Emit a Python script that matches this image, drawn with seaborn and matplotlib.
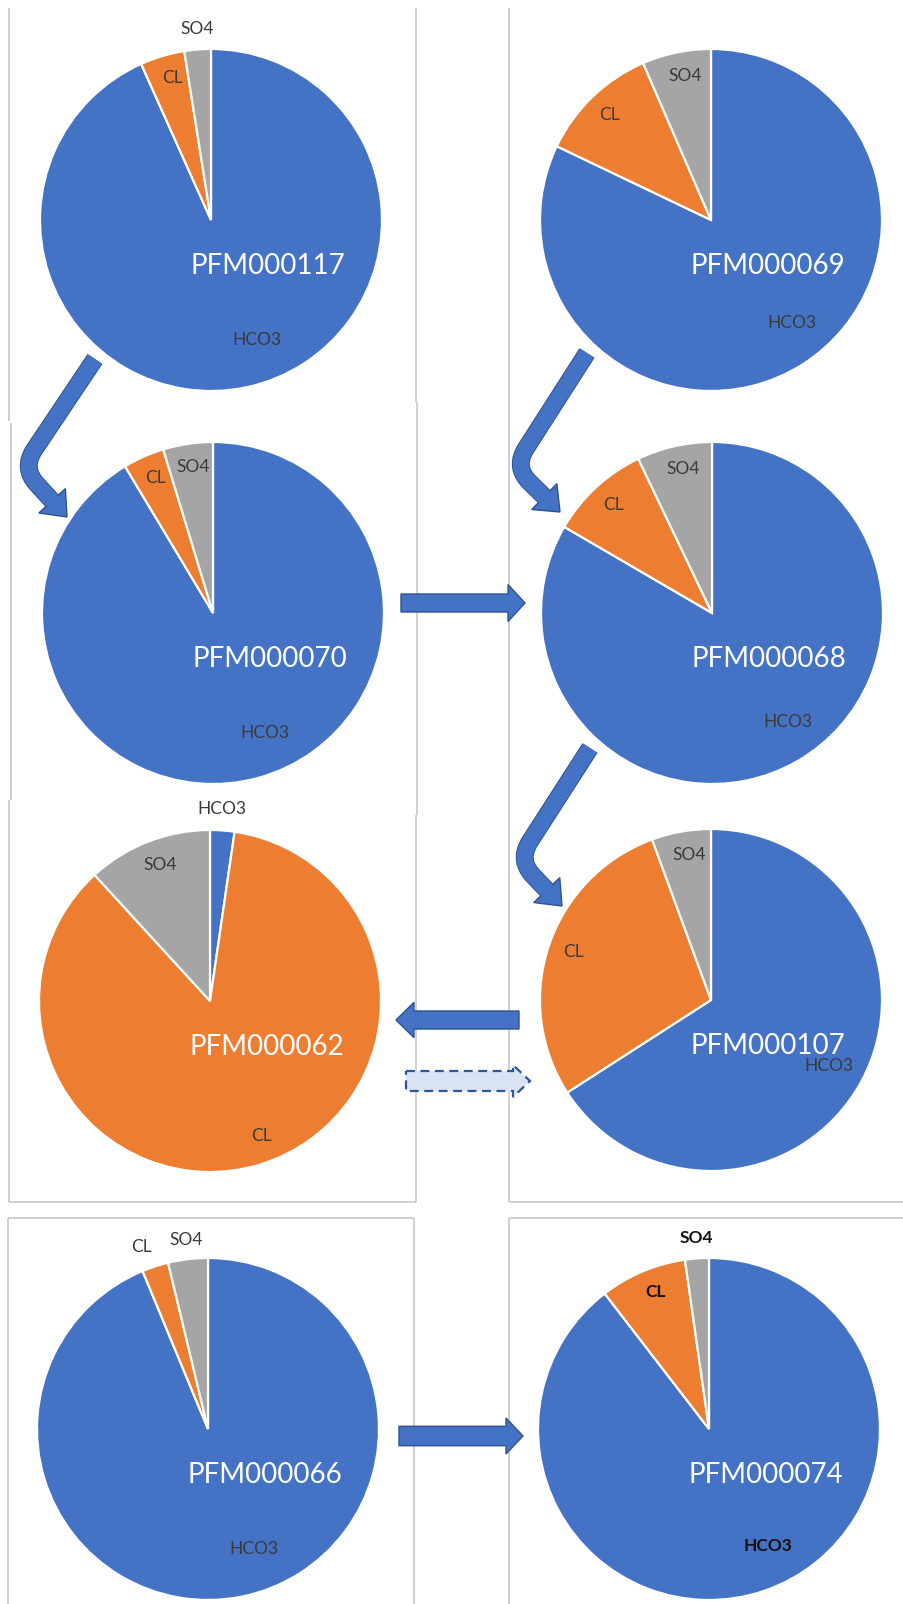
import numpy as np
import pandas as pd
import matplotlib
matplotlib.use("Agg")
import matplotlib.pyplot as plt
import matplotlib.patheffects as pe
from matplotlib.patches import Polygon, PathPatch
from matplotlib.path import Path
import seaborn as sns

# ---- ion composition per sample (percent of total) ----
samples = ["PFM000117", "PFM000069", "PFM000070", "PFM000068",
           "PFM000062", "PFM000107", "PFM000066", "PFM000074"]
ions = ["HCO3", "CL", "SO4"]
hco3 = [93.3, 82.1, 91.4, 83.4, 2.3, 65.9, 93.75, 89.6]
cl = [4.2, 11.4, 3.9, 9.5, 85.9, 28.5, 2.5, 8.2]
so4 = [2.5, 6.5, 4.7, 7.1, 11.8, 5.6, 3.75, 2.25]

df = pd.DataFrame({"sample": samples, "HCO3": hco3, "CL": cl, "SO4": so4}).set_index("sample")

sns.set_theme(style="white")
plt.rcParams["font.family"] = ["Lato", "DejaVu Sans"]
ion_colors = dict(zip(ions, sns.color_palette(["#4472C4", "#ED7D31", "#A5A5A5"])))

W, H = 904, 1604
fig = plt.figure(figsize=(W / 100, H / 100), dpi=100)
fig.patch.set_facecolor("white")


def pixel_axes(zorder):
    ax = fig.add_axes([0, 0, 1, 1], zorder=zorder)
    ax.set_xlim(0, W)
    ax.set_ylim(H, 0)
    ax.axis("off")
    return ax


# ---- panel frames ----
base = pixel_axes(0)
frame_segments = [
    ((9.5, 8), (9.5, 421)), ((416.5, 8), (416.5, 402)),
    ((11, 423), (11, 800)), ((9.5, 800), (9.5, 1202)),
    ((417.5, 402), (417.5, 815)), ((416, 815), (416, 1202)),
    ((9.5, 1202), (416, 1202)),
    ((8, 1218), (414.5, 1218)), ((414.5, 1218), (414.5, 1604)), ((8, 1218), (8, 1604)),
    ((509, 8), (509, 1202)), ((509, 1202), (904, 1202)),
    ((509, 1218), (904, 1218)), ((509, 1218), (509, 1604)),
]
for (x0, y0), (x1, y1) in frame_segments:
    base.plot([x0, x1], [y0, y1], color="#c4c4c4", lw=1.1, solid_capstyle="butt")

# ---- pies ----
centers = [(211, 220), (711, 220), (213, 613), (712, 613),
           (210, 1001), (711, 1000), (208, 1429), (709, 1429)]
R = 171
for s, (cx, cy) in zip(samples, centers):
    ax = fig.add_axes([(cx - R) / W, 1 - (cy + R) / H, 2 * R / W, 2 * R / H], zorder=1)
    ax.pie(df.loc[s, ions].values, colors=[ion_colors[k] for k in ions],
           startangle=90, counterclock=False, radius=1,
           wedgeprops=dict(edgecolor="white", linewidth=1.6))
    ax.set_xlim(-1, 1)
    ax.set_ylim(-1, 1)
    ax.set_aspect("equal")
    ax.axis("off")

# ---- labels and arrows on top ----
top = pixel_axes(2)

# offsets (px) from each pie centre for HCO3, CL, SO4
label_offsets = [
    [(46, 120), (-39, -142), (-14, -191)],
    [(81, 103), (-102, -105), (-26, -144)],
    [(52, 120), (-58, -135), (-20, -146)],
    [(76, 109), (-99, -108), (-29, -144)],
    [(12, -192), (51, 135), (-50, -136)],
    [(118, 66), (-138, -48), (-22, -145)],
    [(46, 120), (-67, -182), (-22, -189)],
    [(59, 117), (-53, -137), (-13, -191)],
]
name_offset = (57, 46)
for i, (s, (cx, cy)) in enumerate(zip(samples, centers)):
    top.text(cx + name_offset[0], cy + name_offset[1], s, color="white",
             fontsize=20, ha="center", va="center")
    strong = i == len(samples) - 1
    for ion, (dx, dy) in zip(ions, label_offsets[i]):
        top.text(cx + dx, cy + dy, ion, fontsize=12.5, ha="center", va="center",
                 color="#111111" if strong else "#3a3a3a",
                 fontweight="bold" if strong else "normal")

arrow_fill = "#4472C4"
arrow_edge = "#2F528F"


def straight_arrow(x0, xb, xt, yc, sw, hw, **kw):
    pts = [(x0, yc - sw), (xb, yc - sw), (xb, yc - hw), (xt, yc),
           (xb, yc + hw), (xb, yc + sw), (x0, yc + sw)]
    top.add_patch(Polygon(pts, closed=True, **kw))


def bent_arrow(tail, bend, tip, width=16, head_len=22, head_hw=18, round_r=22):
    tail, bend, tip = map(np.asarray, (tail, bend, tip))
    u = (tip - bend) / np.linalg.norm(tip - bend)
    n = np.array([-u[1], u[0]])
    mid = tip - head_len * u
    head = [mid + head_hw * n, tip, mid - head_hw * n]
    top.add_patch(Polygon(head, closed=True, facecolor=arrow_fill,
                          edgecolor=arrow_edge, lw=1.0, joinstyle="miter"))
    end = mid + 1.0 * u
    a = bend + round_r * (tail - bend) / np.linalg.norm(tail - bend)
    b = bend + round_r * (end - bend) / np.linalg.norm(end - bend)
    path = Path([tail, a, bend, b, end],
                [Path.MOVETO, Path.LINETO, Path.CURVE3, Path.CURVE3, Path.LINETO])
    lw = width * 72 / 100
    patch = PathPatch(path, fill=False, edgecolor=arrow_fill, lw=lw,
                      capstyle="butt", joinstyle="round")
    patch.set_path_effects([pe.Stroke(linewidth=lw + 1.4, foreground=arrow_edge),
                            pe.Normal()])
    top.add_patch(patch)


bent_arrow((95, 359), (22, 468), (67, 517))
bent_arrow((587, 353), (514, 467), (560, 512))
bent_arrow((590, 748), (518, 860), (562, 906))

solid = dict(facecolor=arrow_fill, edgecolor=arrow_edge, lw=1.0)
straight_arrow(401, 508, 525, 603, 9, 18.5, **solid)
straight_arrow(519, 414, 396, 1020, 9, 17.7, **solid)
straight_arrow(399, 506, 523, 1436, 9.7, 18, **solid)
straight_arrow(406, 513, 530, 1081, 10, 16, facecolor="#DAE3F3",
               edgecolor="#2F5597", lw=1.6, linestyle=(0, (4, 2.5)))

fig.savefig("out.png", dpi=100, facecolor="white")
